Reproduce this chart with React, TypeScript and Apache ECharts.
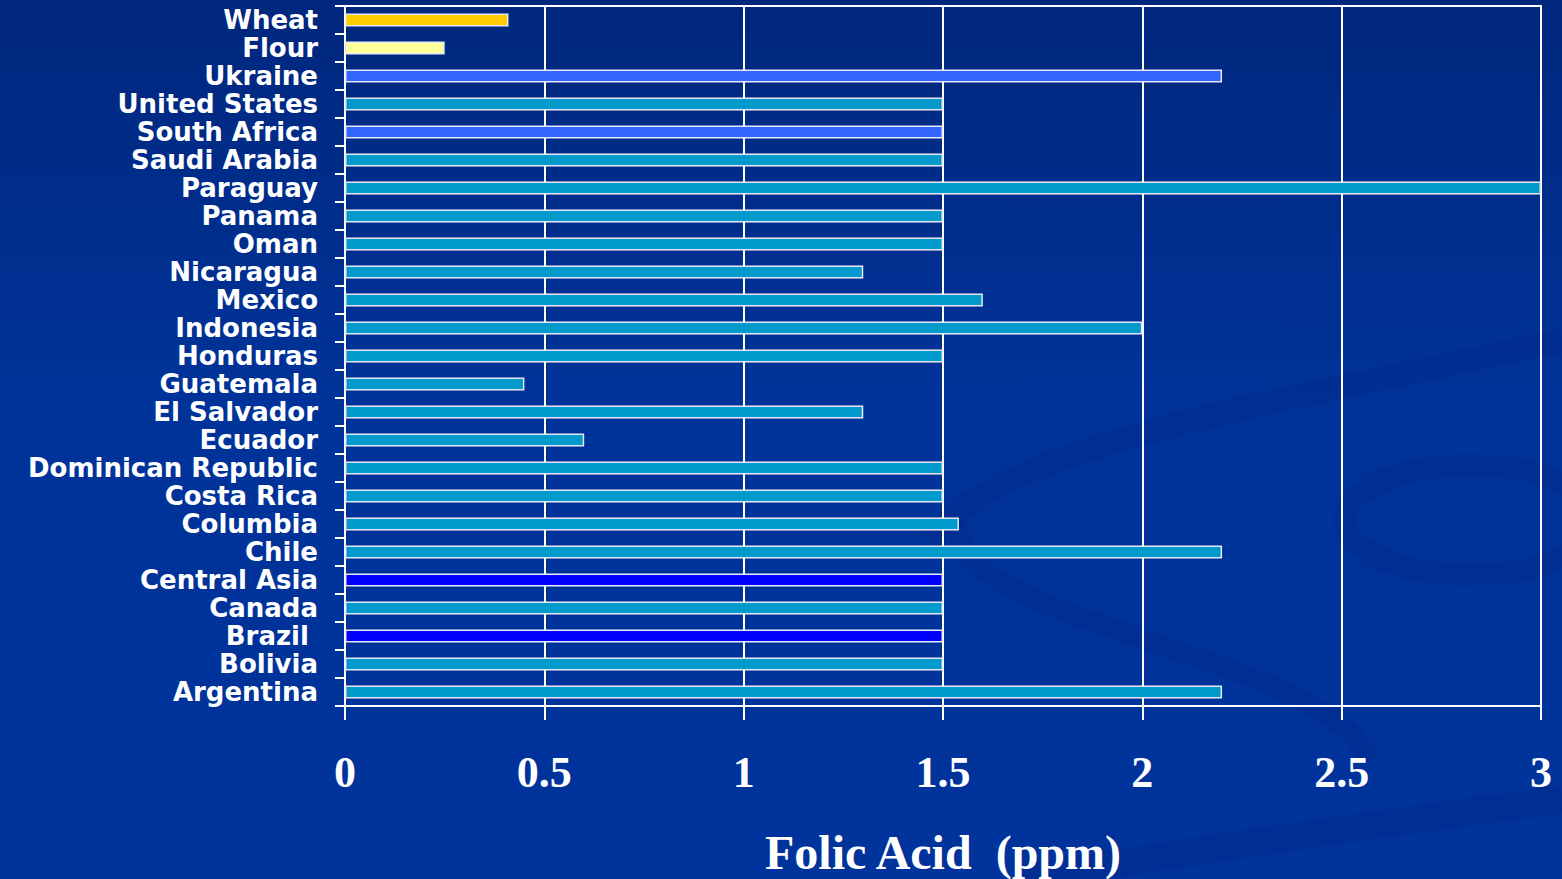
import React, { useEffect, useRef } from "react";
import * as echarts from "echarts";

// Folic acid fortification levels by country / product
const categories = [
  "Wheat", "Flour", "Ukraine", "United States", "South Africa", "Saudi Arabia",
  "Paraguay", "Panama", "Oman", "Nicaragua", "Mexico", "Indonesia", "Honduras",
  "Guatemala", "El Salvador", "Ecuador", "Dominican Republic", "Costa Rica",
  "Columbia", "Chile", "Central Asia", "Canada", "Brazil ", "Bolivia", "Argentina",
];

const folicAcidPpm = [
  0.41, 0.25, 2.2, 1.5, 1.5, 1.5,
  3, 1.5, 1.5, 1.3, 1.6, 2, 1.5,
  0.45, 1.3, 0.6, 1.5, 1.5,
  1.54, 2.2, 1.5, 1.5, 1.5, 1.5, 2.2,
];

const barColors = [
  "#FFCC00", "#FFFF99", "#3366FF", "#0099CC", "#3366FF", "#0099CC",
  "#0099CC", "#0099CC", "#0099CC", "#0099CC", "#0099CC", "#0099CC", "#0099CC",
  "#0099CC", "#0099CC", "#0099CC", "#0099CC", "#0099CC",
  "#0099CC", "#0099CC", "#0000FF", "#0099CC", "#0000FF", "#0099CC", "#0099CC",
];

const xTicks = { min: 0, max: 3, interval: 0.5 };

const swirl = "rgba(0, 25, 110, 0.16)";

export default function App() {
  const ref = useRef<HTMLDivElement>(null);

  useEffect(() => {
    if (!ref.current) return;
    const chart = echarts.init(ref.current, null, { renderer: "svg" });

    chart.setOption({
      animation: false,
      backgroundColor: {
        type: "linear",
        x: 0, y: 0, x2: 0, y2: 1,
        colorStops: [
          { offset: 0, color: "#00277d" },
          { offset: 0.45, color: "#003399" },
          { offset: 1, color: "#00339b" },
        ],
      },
      graphic: [
        // faint decorative swirl ribbons in the background
        {
          type: "bezierCurve", silent: true, z: -10,
          shape: { x1: 930, y1: 540, x2: 1562, y2: 340, cpx1: 1000, cpy1: 440, cpx2: 1300, cpy2: 400 },
          style: { stroke: swirl, lineWidth: 24, fill: "none" },
        },
        {
          type: "bezierCurve", silent: true, z: -10,
          shape: { x1: 960, y1: 520, x2: 1370, y2: 760, cpx1: 930, cpy1: 620, cpx2: 1320, cpy2: 650 },
          style: { stroke: swirl, lineWidth: 20, fill: "none" },
        },
        {
          type: "ellipse", silent: true, z: -10,
          shape: { cx: 1470, cy: 520, rx: 125, ry: 55 },
          style: { stroke: swirl, lineWidth: 22, fill: "none" },
        },
        {
          type: "bezierCurve", silent: true, z: -10,
          shape: { x1: 1020, y1: 879, x2: 1562, y2: 800, cpx1: 1200, cpy1: 850, cpx2: 1400, cpy2: 820 },
          style: { stroke: swirl, lineWidth: 28, fill: "none" },
        },
      ],
      grid: {
        left: 345,
        right: 21,
        top: 6,
        bottom: 173,
        outerBoundsMode: "none",
        containLabel: false,
        show: true,
        borderColor: "#ffffff",
        borderWidth: 2,
        backgroundColor: "transparent",
      },
      xAxis: {
        type: "value",
        min: xTicks.min,
        max: xTicks.max,
        interval: xTicks.interval,
        name: "Folic Acid  (ppm)",
        nameLocation: "middle",
        nameGap: 122,
        nameTextStyle: {
          color: "#ffffff",
          fontFamily: "Liberation Serif, Times New Roman, serif",
          fontWeight: "bold",
          fontSize: 48,
        },
        axisLine: { show: true, lineStyle: { color: "#ffffff", width: 2 } },
        axisTick: { show: true, length: 14, lineStyle: { color: "#ffffff", width: 2 } },
        axisLabel: {
          color: "#ffffff",
          fontFamily: "Liberation Serif, Times New Roman, serif",
          fontWeight: "bold",
          fontSize: 44,
          margin: 44,
          formatter: (v: number) => String(v),
        },
        splitLine: { show: true, lineStyle: { color: "#ffffff", width: 2 } },
      },
      yAxis: {
        type: "category",
        inverse: true,
        data: categories,
        axisLine: { show: true, lineStyle: { color: "#ffffff", width: 2 } },
        axisTick: { show: true, length: 10, lineStyle: { color: "#ffffff", width: 2 } },
        axisLabel: {
          color: "#ffffff",
          fontFamily: "DejaVu Sans, Liberation Sans, Arial, sans-serif",
          fontWeight: "bold",
          fontSize: 26,
          lineHeight: 28,
          margin: 27,
          interval: 0,
        },
        splitLine: { show: false },
      },
      series: [
        {
          type: "bar",
          barWidth: 13,
          data: folicAcidPpm.map((v, i) => ({
            value: v,
            itemStyle: { color: barColors[i] },
          })),
          itemStyle: { borderColor: "#e6e9f5", borderWidth: 1.5 },
        },
      ],
    });

    return () => chart.dispose();
  }, []);

  return (
    <div
      ref={ref}
      style={{ position: "fixed", left: 0, top: 0, width: 1562, height: 879 }}
    />
  );
}
